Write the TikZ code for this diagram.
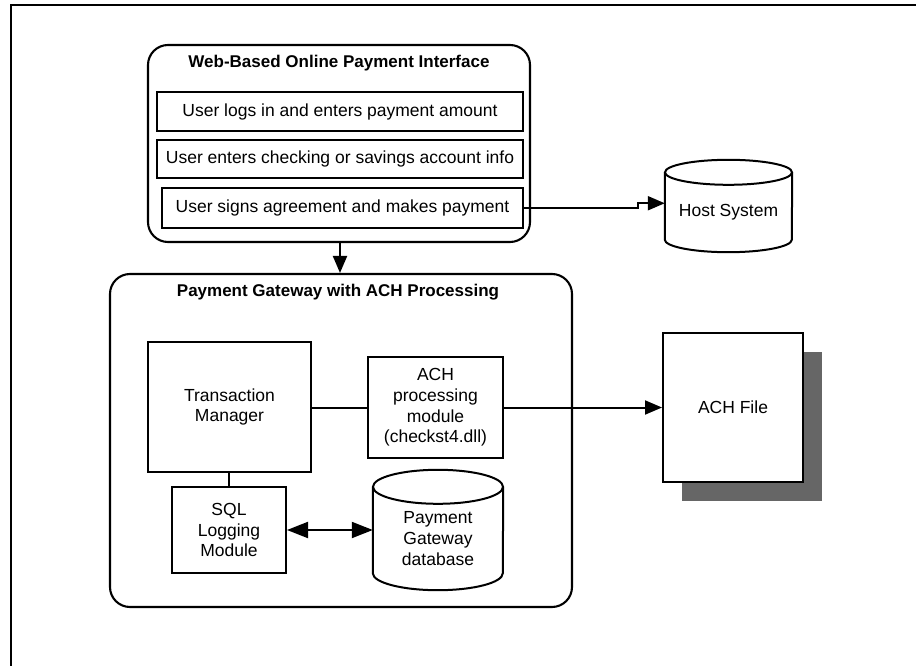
\documentclass[tikz,border=0pt]{standalone}
\usepackage{fontspec}
\setmainfont{Liberation Sans}
\usetikzlibrary{arrows.meta}
\begin{document}
\begin{tikzpicture}[x=1pt,y=-1pt,
  every node/.style={font=\fontsize{17.5pt}{20.7pt}\selectfont, align=center, inner sep=0pt},
  panel/.style={draw, line width=2.1pt, rounded corners=20pt},
  stepbox/.style={draw, line width=2pt},
  cyl/.style={line width=2pt},
  heading/.style={font=\fontsize{17pt}{20pt}\selectfont\bfseries},
  link/.style={line width=2pt},
  arr/.style={link, -{Triangle[length=17pt,width=14pt]}},
  darr/.style={link, {Triangle[length=21pt,width=16pt]}-{Triangle[length=21pt,width=16pt]}},
]
\useasboundingbox (0,0) rectangle (916,666);

% page frame (top and left edges)
\draw[line width=1.4pt] (11,666) -- (11,5) -- (916,5);

% web interface panel
\node[panel, minimum width=382pt, minimum height=197pt] (web) at (339,143.5) {};
\node[heading] (webtitle) at (339,63) {Web-Based Online Payment Interface};
\node[stepbox, minimum width=366pt, minimum height=39pt] (s1) at (340,111.5) {User logs in and enters payment amount};
\node[stepbox, minimum width=366pt, minimum height=38pt] (s2) at (340,159) {User enters checking or savings account info};
\node[stepbox, minimum width=361pt, minimum height=40pt] (s3) at (342.5,208) {User signs agreement and makes payment};

% host system cylinder
\node[minimum width=127pt, minimum height=79.5pt] (host) at (728.5,212.25) {Host System};
\draw[cyl] (host.north west) -- ([yshift=12.5pt]host.south west)
  arc[start angle=180, end angle=360, x radius=63.5pt, y radius=12.5pt] -- (host.north east);
\draw[cyl] (host.north) ellipse[x radius=63.5pt, y radius=12.5pt];

% payment gateway panel
\node[panel, minimum width=462pt, minimum height=333pt] (gw) at (341,440.5) {};
\node[heading] (gwtitle) at (338,292) {Payment Gateway with ACH Processing};
\node[stepbox, minimum width=163pt, minimum height=130pt] (tm) at (229.5,407) {Transaction\\Manager};
\node[stepbox, minimum width=135pt, minimum height=101pt] (ach) at (435.5,407.5) {ACH\\processing\\module\\(checkst4.dll)};
\node[stepbox, minimum width=114pt, minimum height=86pt] (sql) at (229,530) {SQL\\Logging\\Module};

% gateway database cylinder
\node[minimum width=130pt, minimum height=103pt] (db) at (438,538.5) {Payment\\Gateway\\database};
\draw[cyl] (db.north west) -- ([yshift=17pt]db.south west)
  arc[start angle=180, end angle=360, x radius=65pt, y radius=17pt] -- (db.north east);
\draw[cyl] (db.north) ellipse[x radius=65pt, y radius=17pt];

% ACH file with its shadow
\fill[black!60] (682,352) rectangle (822,501);
\node[stepbox, fill=white, minimum width=140pt, minimum height=149pt] (file) at (733,407.5) {ACH File};

% connectors
\draw[arr] (web.south -| 340,0) -- (gw.north -| 340,0);
\draw[arr] (s3.east) -- ++(114,0) |- ([yshift=9pt]host.west);
\draw[link] (tm.east |- ach.west) -- (ach.west);
\draw[arr] (ach.east) -- (file.west |- ach.east);
\draw[link] (tm.south -| sql.north) -- (sql.north);
\draw[darr] (sql.east) -- (db.west |- sql.east);

\end{tikzpicture}
\end{document}
